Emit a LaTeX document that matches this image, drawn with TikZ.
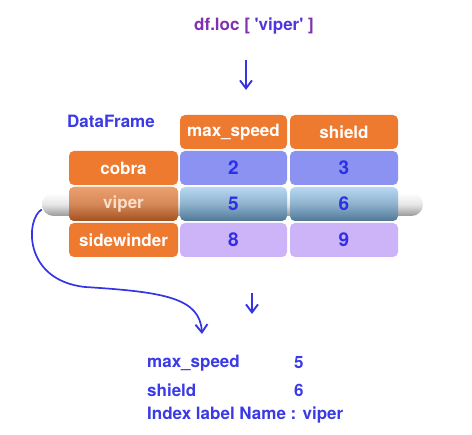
\documentclass[tikz,border=0pt]{standalone}
\usepackage{fontspec}
\setmainfont{TeX Gyre Heros}
\usetikzlibrary{arrows.meta}
\definecolor{org}{HTML}{EE7A30}
\definecolor{cobv}{HTML}{8C92F2}
\definecolor{sidv}{HTML}{CDB3F7}
\definecolor{numc}{HTML}{2E2EE8}
\definecolor{txtb}{HTML}{3A3AE6}
\definecolor{arrc}{HTML}{3535E5}
\definecolor{purp}{HTML}{8030B0}
\definecolor{vipb}{HTML}{5038D8}
\definecolor{vtop}{HTML}{B8D8F2}
\definecolor{vbot}{HTML}{4F7896}
\definecolor{otop}{HTML}{EBA070}
\definecolor{obot}{HTML}{A3501F}
\begin{document}
\begin{tikzpicture}[x=1pt,y=-1pt,
  cell/.style={rounded corners=5pt, minimum height=34pt, inner sep=0pt,
    font=\fontsize{17}{20}\bfseries\selectfont},
  lab/.style={cell, fill=org, text=white, minimum width=109pt},
  hdr/.style={cell, fill=org, text=white},
  val/.style={cell, text=numc, font=\fontsize{19}{22}\bfseries\selectfont},
  vipval/.style={val, top color=vtop, bottom color=vbot, middle color=vtop!60!vbot},
  txt/.style={inner sep=0pt, text=txtb, font=\fontsize{17}{20}\bfseries\selectfont},
  arr/.style={draw=arrc, line width=1.7pt, -{Straight Barb[length=8pt,width=12pt,line width=1.9pt]}}
]
\useasboundingbox (0,0) rectangle (472,435);

% title
\node[inner sep=0pt, font=\fontsize{17}{20}\bfseries\selectfont] (title) at (254,26)
  {\textcolor{purp}{df.loc\ [\ }\textcolor{vipb}{\textquotesingle viper\textquotesingle}\textcolor{purp}{\ ]}};
\coordinate (a1s) at (246,60);
\coordinate (a1e) at (246,90);
\draw[arr] (a1s) -- (a1e);

\node[txt, anchor=west] (dfl) at (67,121) {DataFrame};

% headers
\node[hdr, minimum width=107pt] (h1) at (233.5,132) {max\_speed};
\node[hdr, minimum width=108pt] (h2) at (344,132) {shield};

% tube behind viper row
\node[rounded corners=11.5pt, minimum width=381pt, minimum height=23pt, inner sep=0pt,
  top color=white, bottom color=black!40, middle color=black!10] (tube) at (232.5,204.5) {};

% rows
\node[lab] (r1) at (123.5,168) {cobra};
\node[val, fill=cobv, minimum width=107pt] (v11) at (233.5,168) {2};
\node[val, fill=cobv, minimum width=108pt] (v12) at (344,168) {3};

\node[lab, top color=otop, bottom color=obot, middle color=otop!70!obot, text=white!75!org] (r2) at (123.5,204) {viper};
\node[vipval, minimum width=107pt] (v21) at (233.5,204) {5};
\node[vipval, minimum width=108pt] (v22) at (344,204) {6};

\node[lab] (r3) at (123.5,240) {sidewinder};
\node[val, fill=sidv, minimum width=107pt] (v31) at (233.5,240) {8};
\node[val, fill=sidv, minimum width=108pt] (v32) at (344,240) {9};

% curved arrow
\coordinate (cend) at (202,334);
\draw[arr] ([yshift=-5pt]tube.west) .. controls (26,218) and (22,280) .. (85,287)
  .. controls (165,292) and (200,298) .. (cend);

% second arrow
\coordinate (a2s) at (252,293);
\coordinate (a2e) at (252,314);
\draw[arr] (a2s) -- (a2e);

% result
\node[txt, anchor=west] (o1) at (147,363) {max\_speed};
\node[txt, anchor=west] (o1v) at (294,363) {5};
\node[txt, anchor=west] (o2) at (147,390) {shield};
\node[txt, anchor=west] (o2v) at (294,390) {6};
\node[txt, anchor=west] (o3) at (147,415) {Index label Name : viper};
\end{tikzpicture}
\end{document}
